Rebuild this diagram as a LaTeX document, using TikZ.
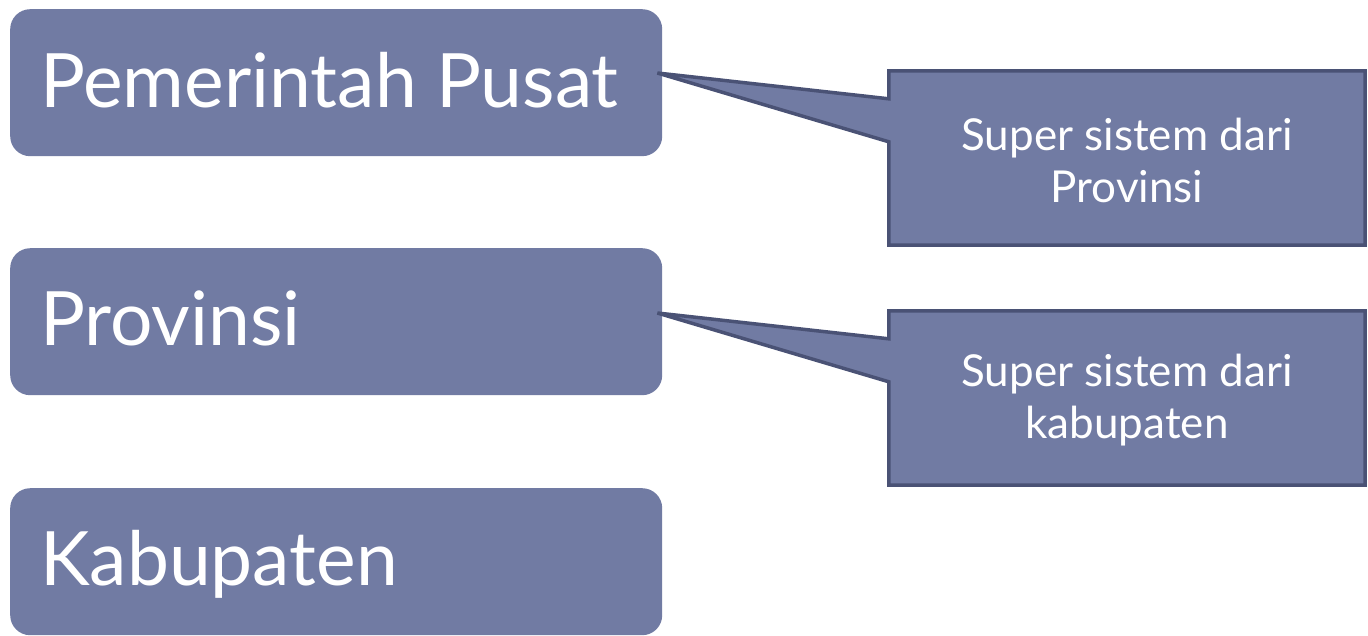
\documentclass[tikz,border=0pt]{standalone}
\usepackage{fontspec}
\setmainfont{Lato}
\usetikzlibrary{calc}
\definecolor{boxfill}{RGB}{113,123,163}
\definecolor{boxline}{RGB}{74,82,117}
\begin{document}
\begin{tikzpicture}[x=1pt,y=-1pt,
  levelbox/.style={fill=boxfill, rounded corners=20pt, minimum width=652pt, minimum height=147pt, inner sep=0pt, anchor=north west},
  leveltext/.style={text=white, font=\fontsize{75}{90}\selectfont, anchor=base west, inner sep=0pt},
  callframe/.style={minimum width=476pt, minimum height=174pt, inner sep=0pt},
  callshape/.style={fill=boxfill, draw=boxline, line width=3.5pt, line join=miter},
  calltext/.style={text=white, align=center, font=\fontsize{44}{52}\selectfont, inner sep=0pt}]
\useasboundingbox (0,0) rectangle (1368,635);
% level boxes
\node[levelbox] (p1) at (10,9) {};
\node[levelbox] (p2) at (10,248) {};
\node[levelbox] (p3) at (10,488) {};
\node[leveltext] (p1t) at ($(p1.north west)+(30,98)$) {Pemerintah Pusat};
\node[leveltext] (p2t) at ($(p2.north west)+(30,97)$) {Provinsi};
\node[leveltext] (p3t) at ($(p3.north west)+(30,97)$) {Kabupaten};
% callouts
\node[callframe] (c1) at (1127,158) {};
\node[callframe] (c2) at (1127,398) {};
\coordinate (t1) at ($(p1.north east)+(-5,64)$);
\coordinate (t2) at ($(p2.north east)+(-5,65)$);
\draw[callshape] (c1.north west) -- (c1.north east) -- (c1.south east) -- (c1.south west)
  -- ($(c1.north west)+(0,71)$) -- (t1) -- ($(c1.north west)+(0,28)$) -- cycle;
\draw[callshape] (c2.north west) -- (c2.north east) -- (c2.south east) -- (c2.south west)
  -- ($(c2.north west)+(0,71)$) -- (t2) -- ($(c2.north west)+(0,28)$) -- cycle;
\node[calltext] (c1t) at ($(c1.center)+(0,2)$) {Super sistem dari\\Provinsi};
\node[calltext] (c2t) at ($(c2.center)+(0,2)$) {Super sistem dari\\kabupaten};
\end{tikzpicture}
\end{document}
